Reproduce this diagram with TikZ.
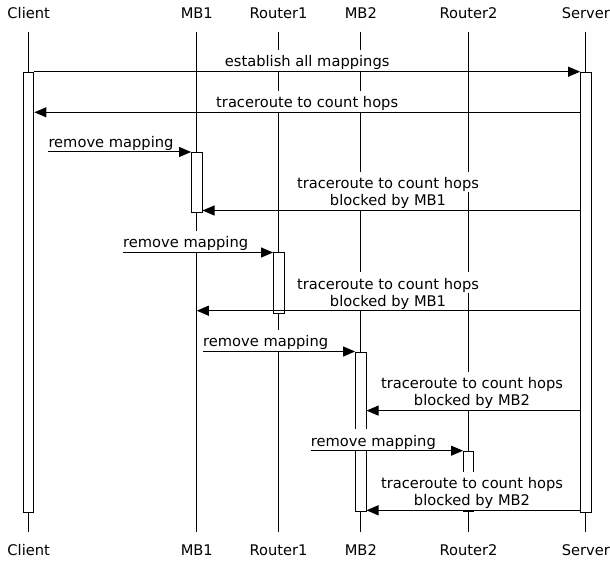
\documentclass[tikz,border=0pt]{standalone}
\usepackage{fontspec}
\setmainfont{DejaVu Sans}
\usetikzlibrary{arrows.meta}
\begin{document}
\begin{tikzpicture}[x=1pt,y=-1pt,
  font=\fontsize{14.67}{17}\selectfont,
  ent/.style={anchor=base,inner sep=0pt},
  life/.style={line width=1pt},
  actbox/.style={draw,fill=white,line width=1pt,minimum width=10.4pt,inner sep=0pt,anchor=north},
  lbl/.style={anchor=base,fill=white,inner ysep=0pt,inner xsep=1pt},
  lone/.style={lbl,text height=16.7pt,text depth=4.2pt},
  ltop/.style={lbl,text height=16.7pt,text depth=3.5pt},
  lbot/.style={lbl,text height=13.5pt,text depth=4.2pt},
  lrm/.style={lone,anchor=base west,inner xsep=0pt},
  msg/.style={line width=1pt,-{Triangle[length=12pt,width=10pt]}},
]
\path[use as bounding box] (0,0) rectangle (610,561);

% entity labels
\node[ent] (tC)  at (28.7,18.3)  {Client};
\node[ent] (tM1) at (196.8,18.3) {MB1};
\node[ent] (tR1) at (278.5,18.3) {Router1};
\node[ent] (tM2) at (360.8,18.3) {MB2};
\node[ent] (tR2) at (468.5,18.3) {Router2};
\node[ent] (tS)  at (585.8,18.3) {Server};
\node[ent] (uC)  at (28.7,555.5)  {Client};
\node[ent] (uM1) at (196.8,555.5) {MB1};
\node[ent] (uR1) at (278.5,555.5) {Router1};
\node[ent] (uM2) at (360.8,555.5) {MB2};
\node[ent] (uR2) at (468.5,555.5) {Router2};
\node[ent] (uS)  at (585.8,555.5) {Server};

% lifelines
\foreach \n/\x in {C/28.7,M1/196.8,R1/278.5,M2/360.8,R2/468.5,S/585.8}{
  \coordinate (l\n a) at (\x,31.7);
  \coordinate (l\n b) at (\x,531.7);
  \draw[life] (l\n a) -- (l\n b);
}

% row coordinates
\coordinate (r1) at (0,71.7);
\coordinate (r2) at (0,112.3);
\coordinate (r3) at (0,152);
\coordinate (r4) at (0,210.5);
\coordinate (r5) at (0,252.5);
\coordinate (r6) at (0,310.7);
\coordinate (r7) at (0,351.5);
\coordinate (r8) at (0,410.6);
\coordinate (r9) at (0,450.7);
\coordinate (r10) at (0,510.3);

% activation boxes
\node[actbox,minimum height=439.8pt] (bC)  at (28.7,71.7) {};
\node[actbox,minimum height=439.8pt] (bS)  at (585.8,71.7) {};
\node[actbox,minimum height=60pt]    (bM1) at (196.8,152) {};
\node[actbox,minimum height=60.8pt]  (bR1) at (278.8,252.5) {};
\node[actbox,minimum height=159.5pt] (bM2) at (360.8,351.5) {};
\node[actbox,minimum height=60.3pt]  (bR2) at (468.7,450.7) {};

% labels
\node[lone] (m1) at (307.2,66.9) {establish all mappings};
\node[lone] (m2) at (307.2,107.5) {traceroute to count hops};
\node[lrm]  (m3) at (48.3,147.3) {remove mapping};
\node[ltop] (m4a) at (388,188.8) {traceroute to count hops};
\node[lbot] (m4b) at (388,205.8) {blocked by MB1};
\node[lrm]  (m5) at (123,247.8) {remove mapping};
\node[ltop] (m6a) at (388,289) {traceroute to count hops};
\node[lbot] (m6b) at (388,306) {blocked by MB1};
\node[lrm]  (m7) at (203,346.8) {remove mapping};
\node[ltop] (m8a) at (472,388.9) {traceroute to count hops};
\node[lbot] (m8b) at (472,405.9) {blocked by MB2};
\node[lrm]  (m9) at (310.7,446) {remove mapping};
\node[ltop] (m10a) at (472,488.6) {traceroute to count hops};
\node[lbot] (m10b) at (472,505.6) {blocked by MB2};

% messages
\draw[msg] (bC.north east) -- (bS.north west);
\draw[msg] (bS.west |- r2) -- (bC.east |- r2);
\draw[msg] (m3.west |- r3) -- (bM1.north west);
\draw[msg] (bS.west |- r4) -- (bM1.east |- r4);
\draw[msg] (m5.west |- r5) -- (bR1.north west);
\draw[msg] (bS.west |- r6) -- (lM1a |- r6);
\draw[msg] (m7.west |- r7) -- (bM2.north west);
\draw[msg] (bS.west |- r8) -- (bM2.east |- r8);
\draw[msg] (m9.west |- r9) -- (bR2.north west);
\draw[msg] (bS.west |- r10) -- (bM2.east |- r10);
\end{tikzpicture}
\end{document}
